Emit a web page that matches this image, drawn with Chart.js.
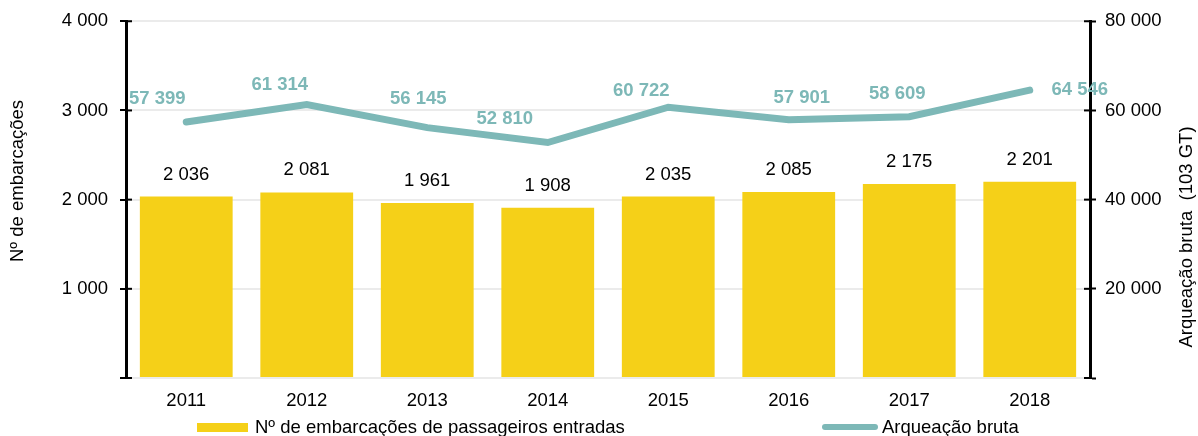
<!DOCTYPE html>
<html>
<head>
<meta charset="utf-8">
<script src="https://cdn.jsdelivr.net/npm/chart.js@4.4.1/dist/chart.umd.min.js"></script>
<style>
  body { margin: 0; background: #fff; }
</style>
</head>
<body>
<canvas id="myChart" width="1198" height="436"></canvas>
<script>
// data
var years = ['2011', '2012', '2013', '2014', '2015', '2016', '2017', '2018'];
var embarcacoes = [2036, 2081, 1961, 1908, 2035, 2085, 2175, 2201];
var arqueacao = [57399, 61314, 56145, 52810, 60722, 57901, 58609, 64546];
var leftTicks = [0, 1000, 2000, 3000, 4000];
var rightTicks = [0, 20000, 40000, 60000, 80000];

var barColor = '#F5D018';
var lineColor = '#7DB8B7';
var font = 'Liberation Sans, Arial, sans-serif';
var fontSize = 18.5;

function fmt(v) {
  return v.toString().replace(/\B(?=(\d{3})+(?!\d))/g, ' ');
}

// line label offsets (hand placed in the original)
var lineLabelOffsets = [[-29, -23], [-27, -20], [-9, -29], [-43, -24], [-27, -16], [13, -22], [-12, -23], [50, 0]];

var extras = {
  id: 'extras',
  afterDatasetsDraw: function (chart) {
    var c = chart.ctx;
    var area = chart.chartArea;
    c.save();

    // inward half of the tick marks
    c.strokeStyle = '#000';
    c.lineWidth = 2;
    leftTicks.forEach(function (t) {
      var y = chart.scales.y.getPixelForValue(t);
      c.beginPath(); c.moveTo(area.left, y); c.lineTo(area.left + 6, y); c.stroke();
    });
    rightTicks.forEach(function (t) {
      var y = chart.scales.y1.getPixelForValue(t);
      c.beginPath(); c.moveTo(area.right - 6, y); c.lineTo(area.right, y); c.stroke();
    });

    // bar value labels
    c.fillStyle = '#000';
    c.font = fontSize + 'px ' + font;
    c.textAlign = 'center';
    c.textBaseline = 'middle';
    chart.getDatasetMeta(0).data.forEach(function (bar, i) {
      c.fillText(fmt(embarcacoes[i]), bar.x, bar.y - 22);
    });

    // line value labels
    c.fillStyle = lineColor;
    c.font = 'bold ' + fontSize + 'px ' + font;
    chart.getDatasetMeta(1).data.forEach(function (pt, i) {
      var o = lineLabelOffsets[i];
      c.fillText(fmt(arqueacao[i]), pt.x + o[0], pt.y + o[1]);
    });

    // axis titles
    c.fillStyle = '#000';
    c.font = fontSize + 'px ' + font;
    c.save();
    c.translate(18, 181);
    c.rotate(-Math.PI / 2);
    c.fillText('Nº de embarcações', 0, 0);
    c.restore();
    c.save();
    c.translate(1187, 237);
    c.rotate(-Math.PI / 2);
    c.fillText('Arqueação bruta  (103 GT)', 0, 0);
    c.restore();

    // legend
    c.textAlign = 'left';
    c.fillStyle = barColor;
    c.fillRect(197, 423, 51, 9);
    c.fillStyle = '#000';
    c.fillText('Nº de embarcações de passageiros entradas', 255, 428);
    c.strokeStyle = lineColor;
    c.lineWidth = 6;
    c.lineCap = 'round';
    c.beginPath(); c.moveTo(825, 427); c.lineTo(875, 427); c.stroke();
    c.fillText('Arqueação bruta', 882, 428);

    c.restore();
  }
};

var ctx = document.getElementById('myChart').getContext('2d');

var myChart = new Chart(ctx, {
  type: 'bar',
  data: {
    labels: years,
    datasets: [{
      label: 'Nº de embarcações de passageiros entradas',
      data: embarcacoes,
      backgroundColor: barColor,
      yAxisID: 'y',
      barPercentage: 0.77,
      categoryPercentage: 1,
      order: 2
    }, {
      type: 'line',
      label: 'Arqueação bruta',
      data: arqueacao,
      borderColor: lineColor,
      borderWidth: 7,
      borderCapStyle: 'round',
      pointRadius: 0,
      tension: 0,
      yAxisID: 'y1',
      order: 1
    }]
  },
  options: {
    responsive: false,
    animation: false,
    layout: { padding: { top: 20, left: 0, right: 0, bottom: 0 } },
    plugins: {
      legend: { display: false },
      tooltip: { enabled: false }
    },
    scales: {
      x: {
        grid: { display: false },
        border: { display: false },
        ticks: { color: '#000', font: { family: font, size: fontSize }, padding: 4 },
        afterFit: function (s) { s.height = 58; }
      },
      y: {
        position: 'left',
        min: 0,
        max: 4000,
        afterBuildTicks: function (s) { s.ticks = leftTicks.map(function (v) { return { value: v }; }); },
        ticks: {
          color: '#000',
          font: { family: font, size: fontSize, lineHeight: 1 },
          padding: 12,
          callback: function (v) { return v === 0 ? '' : fmt(v); }
        },
        grid: { color: '#EBEBEB', lineWidth: 2, tickColor: '#000', tickWidth: 2, tickLength: 6 },
        border: { color: '#000', width: 3 },
        afterFit: function (s) { s.width = 126; }
      },
      y1: {
        position: 'right',
        min: 0,
        max: 80000,
        afterBuildTicks: function (s) { s.ticks = rightTicks.map(function (v) { return { value: v }; }); },
        ticks: {
          color: '#000',
          font: { family: font, size: fontSize, lineHeight: 1 },
          padding: 9,
          callback: function (v) { return v === 0 ? '' : fmt(v); }
        },
        grid: { drawOnChartArea: false, tickColor: '#000', tickWidth: 2, tickLength: 6 },
        border: { color: '#000', width: 3 },
        afterFit: function (s) { s.width = 108; }
      }
    }
  },
  plugins: [extras]
});
</script>
</body>
</html>
